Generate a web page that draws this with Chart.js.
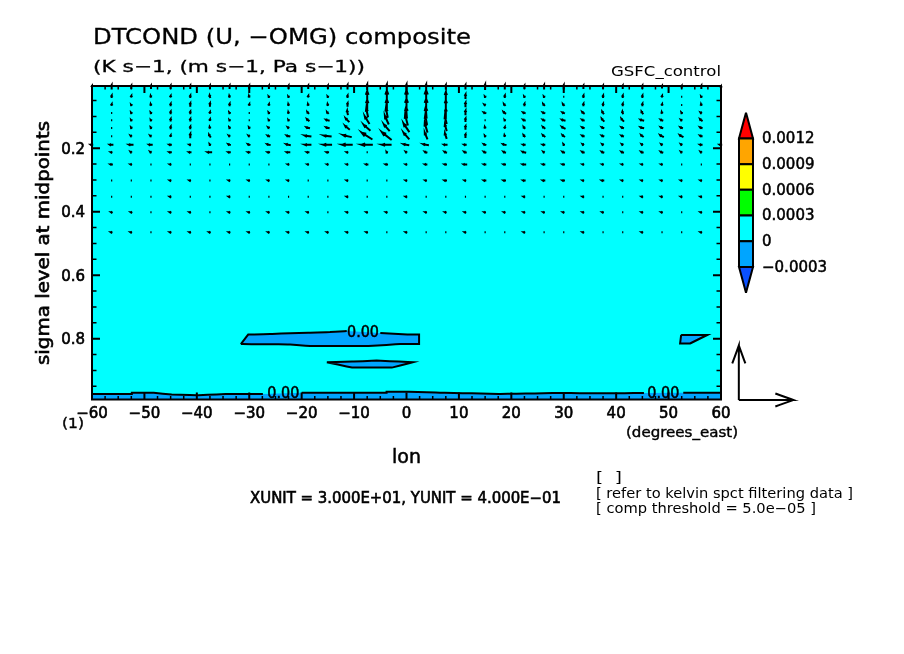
<!DOCTYPE html>
<html>
<head>
<meta charset="utf-8">
<title>DTCOND composite</title>
<script src="https://cdn.jsdelivr.net/npm/chart.js@4"></script>
<style>
    html, body { margin: 0; padding: 0; background: #fff; }
    #wrap { position: relative; width: 904px; height: 654px; overflow: hidden; }
    #myChart { position: absolute; left: 0; top: 0; }
    #barChart { position: absolute; left: 725px; top: 100px; }
</style>
</head>
<body>
<div id="wrap">
    <canvas id="myChart" width="904" height="654"></canvas>
    <canvas id="barChart" width="120" height="210"></canvas>
</div>
<script>
var lonPoints = [-60,-56.25,-52.5,-48.75,-45,-41.25,-37.5,-33.75,-30,-26.25,-22.5,-18.75,-15,-11.25,-7.5,-3.75,0,
    3.75,7.5,11.25,15,18.75,22.5,26.25,30,33.75,37.5,41.25,45,48.75,52.5,56.25,60];
var sigmaLevels = [0.008,0.038,0.064,0.089,0.112,0.136,0.162,0.189,0.213,0.251,0.302,0.353,0.402,0.465];

// zonal wind, m/s, one row per sigma level
var uRows = [
    [0,0,0,0,0,0,0,0,0,0,0,0,0,0,0,0,0,0,0,0,0,0,0,0,0,0,0,0,0,0,0,0,0],
    [0,0,0,-.5,0,0,-.5,-.5,-.5,-.5,-.5,0,-.5,0,0,0,0,0,0,0,-.5,0,-.5,-.5,0,0,0,0,0,0,0,-.5,0],
    [0,0,-.5,-.5,0,0,0,0,0,0,-.5,-.5,-.5,0,0,0,0,0,0,0,-1.1,-1.1,0,-1.1,-1.1,0,0,0,0,0,0,-.5,0],
    [0,0,-.5,-.5,0,0,0,-.5,0,-.5,-.5,-1.1,-1.1,-.5,-1.1,-1.1,-.5,-.5,0,0,-1.6,-1.6,-1.6,-1.6,-1.6,-1.6,-1.1,-.5,-1.1,-.5,-.5,-1.1,0],
    [0,0,-.5,-.5,0,0,0,-.5,0,-.5,-.5,-1.6,-2.2,-2.2,-2.7,-2.2,-1.6,-1.1,-1.1,0,0,-.5,-1.6,-1.6,-2.2,-1.6,-1.6,-1.6,-2.2,-1.6,-1.1,-1.6,0],
    [0,0,-.5,-.5,0,0,-.5,-.5,-.5,-1.1,-1.1,-2.2,-2.2,-2.7,-3.8,-3.3,-3.3,-1.6,-1.1,0,-.5,0,-1.1,-1.6,-2.2,-1.6,-1.6,-1.6,-2.2,-1.6,-1.6,-1.6,0],
    [0,0,-1.1,-1.1,0,0,-1.1,-1.1,-1.1,-1.6,-2.2,-3.8,-4.4,-4.9,-6,-5.5,-3.3,-1.6,-1.1,0,-.5,-.5,-1.1,-1.6,-1.6,-1.6,-1.6,-1.6,-1.6,-2.2,-2.2,-1.6,-.5],
    [-1.6,-2.2,-2.7,-2.2,-1.6,-1.1,-.5,-1.6,-1.6,-2.2,-2.7,-3.8,-4.9,-6,-6.5,-5.5,-3.3,-3.3,-2.2,-1.6,-1.6,-2.2,-1.6,-1.6,-.5,-1.1,-1.1,-1.1,-1.1,-1.1,-1.1,-1.6,-1.6],
    [-.5,-1.1,-1.1,-1.1,-1.6,-1.6,-2.7,-1.6,-1.6,-1.6,-2.2,-1.6,-1.6,-1.1,0,-.5,-1.1,-1.6,-1.6,-1.6,-1.6,-1.6,-2.2,-1.1,-1.6,-1.6,-1.6,-1.6,-1.6,-1.6,-1.1,-1.1,-.5],
    [-.5,-1.6,-1.1,0,-1.1,0,0,-.5,0,0,-1.1,-1.1,-1.1,-1.1,-1.6,-1.6,-1.1,-1.6,-1.6,-2.2,-1.6,-1.6,-2.2,-1.6,-1.6,-1.1,-1.1,-1.1,-1.1,-1.1,0,0,0],
    [0,0,0,0,-1.1,-1.1,0,-1.1,-1.1,-1.1,-1.1,0,0,-1.1,0,0,-1.1,-1.1,-1.6,-1.1,-1.6,-1.6,-1.6,-1.6,-1.6,-1.1,-1.6,-1.1,-1.1,-1.1,-1.1,-1.1,0],
    [0,0,0,0,-1.1,-.5,0,-1.1,0,0,0,0,0,-1.1,0,0,-1.1,0,0,0,0,0,-1.1,0,0,-1.1,0,0,-1.1,-1.1,-1.1,-1.1,0],
    [0,-.8,-.8,0,-1.1,-1.1,0,-1.1,-1.1,-1.1,-1.1,-1.1,0,-1.1,-1.1,-1.1,-1.1,-1.1,-1.1,-1.1,-1.1,-1.1,-1.1,-1.1,-1.1,-1.1,-1.1,0,-1.1,-1.1,0,-1.1,0],
    [0,-1.1,-1.1,0,-1.1,-1.1,-1.1,-1.1,-1.1,-1.1,-1.1,-1.1,-1.1,-1.1,-1.1,0,-1.1,0,0,-1.1,0,0,-1.1,0,0,-1.1,0,0,-1.1,0,0,-1.1,0]
];

// -omega, 0.001 Pa/s, same rows
var wRows = [
    [22,36,29,29,29,29,29,29,29,29,29,29,29,36,44,44,44,44,36,36,44,36,29,36,36,29,29,29,29,22,22,29,15],
    [0,22,15,15,15,22,22,15,15,7,7,15,7,22,87,95,95,102,73,36,7,22,7,7,0,22,22,22,22,15,7,7,0],
    [0,15,7,15,22,29,29,22,15,15,15,15,15,29,80,87,95,95,73,36,7,15,22,15,15,22,22,22,22,15,7,15,0],
    [0,7,7,7,22,22,15,7,0,7,15,15,15,36,65,73,87,87,65,36,7,15,7,7,7,15,22,22,22,15,7,7,0],
    [0,7,7,7,22,22,15,7,0,7,7,15,7,29,58,65,80,73,58,29,0,7,7,7,7,7,22,22,7,7,7,15,0],
    [0,7,7,7,22,22,15,7,7,7,7,7,7,29,44,51,65,73,51,29,15,15,15,15,15,7,7,7,7,7,7,7,0],
    [0,7,7,7,15,36,22,7,7,7,7,7,7,15,51,58,51,51,44,29,7,15,15,15,15,7,7,7,15,15,15,7,0],
    [0,0,0,0,0,0,7,7,7,7,7,0,0,0,0,0,7,7,0,0,7,7,0,0,7,7,7,7,7,7,7,0,0],
    [0,0,7,7,0,0,0,0,0,0,0,0,0,0,0,7,7,7,7,7,7,7,7,7,7,7,7,7,7,7,7,7,0],
    [0,0,0,0,0,0,0,0,0,0,0,0,0,0,0,0,0,0,0,0,0,0,0,0,0,0,0,0,0,0,0,0,0],
    [0,0,0,0,0,0,0,0,0,0,0,0,0,0,0,0,0,0,0,0,0,0,0,0,0,0,0,0,0,0,0,0,0],
    [0,0,0,0,0,0,0,0,0,0,0,0,0,0,0,0,0,0,0,0,0,0,0,0,0,0,0,0,0,0,0,0,0],
    [0,0,0,0,0,0,0,0,0,0,0,0,0,0,0,0,0,0,0,0,0,0,0,0,0,0,0,0,0,0,0,0,0],
    [0,0,0,0,0,0,0,0,0,0,0,0,0,0,0,0,0,0,0,0,0,0,0,0,0,0,0,0,0,0,0,0,0]
];

// contour outlines of the 0.00 level
var blobLon = [-31.6,-30.2,-26,-22.2,-18.4,-14.6,-11.4,-5,0.3,2.4,2.4,-1.2,-7.6,-18.4,-22.2,-31.6];
var blobSigma = [.817,.787,.785,.783,.781,.779,.776,.782,.787,.787,.817,.817,.823,.823,.818,.817];
var lensLon = [-15.2,-10.4,-5.7,1.2,-2.8,-10.4,-15.2];
var lensSigma = [.874,.872,.869,.874,.891,.891,.874];
var edgeLon = [52.4,57.4,54.1,52.2,52.4];
var edgeSigma = [.788,.788,.815,.815,.788];
var bandLon = [-60,-52.4,-52.4,-48.6,-44.8,-40,-33.7,-27.4,-20,-3.8,-3.8,0,6.4,17.9,29.3,36.9,45.3,52.8,60,60,-60,-60];
var bandSigma = [.974,.974,.970,.970,.976,.978,.974,.974,.970,.970,.967,.967,.970,.974,.971,.972,.971,.970,.970,.9915,.9915,.974];

var contourLabel = '0.00';
var labelLon = [-8.3,-23.5,49];
var labelSigma = [.777,.971,.971];

var xunit = 30;
var yunit = 400;
var unitOriginLon = 63.4;
var unitOriginSigma = 0.993;

var colorLevels = [-0.0003,0,0.0003,0.0006,0.0009,0.0012];
var colorFills = ['#00a5ff','#00ffff','#00ff00','#ffff00','#ffa500'];
var lowColor = '#0a50ff';
var highColor = '#ff0000';
var tipLow = -0.0006;
var tipHigh = 0.0015;

var titleText = 'DTCOND (U, \u2212OMG) composite';
var subTitleText = '(K s\u22121, (m s\u22121, Pa s\u22121))';
var caseText = 'GSFC_control';
var xTitle = 'lon';
var yTitle = 'sigma level at midpoints';
var xUnitsText = '(degrees_east)';
var indexText = '(1)';
var unitText = 'XUNIT = 3.000E+01, YUNIT = 4.000E\u221201';
var noteLines = ['[  ]', '[ refer to kelvin spct filtering data ]', '[ comp threshold = 5.0e\u221205 ]'];

var fontName = '"DejaVu Sans"';
var pxPerLon = 629 / 120;
var pxPerSigma = 317.5;
var unitLength = 54.5;

// one arrow as a polyline in data coordinates, "at" says where the grid point sits on it
function arrowPoints(lon, sigma, dx, dy, at) {
    var len = Math.sqrt(dx * dx + dy * dy);
    var pts;
    if (len < 0.8) {
        pts = [[0.6, 0], [-0.6, 0]];
    } else {
        var ux = dx / len, uy = dy / len;
        var hx = (1 - at) * dx, hy = (1 - at) * dy;
        var back = Math.max(0.33 * len, 1.2), side = Math.max(0.12 * len, 0.9);
        pts = [[-at * dx, -at * dy], [hx, hy],
            [hx - ux * back - uy * side, hy - uy * back + ux * side],
            [hx, hy],
            [hx - ux * back + uy * side, hy - uy * back - ux * side]];
    }
    var out = pts.map(function (p) {
        return { x: lon + p[0] / pxPerLon, y: sigma - p[1] / pxPerSigma };
    });
    out.push({ x: lon, y: null });
    return out;
}

var vectorData = [];
sigmaLevels.forEach(function (sigma, r) {
    lonPoints.forEach(function (lon, c) {
        var dx = uRows[r][c] / xunit * unitLength;
        var dy = wRows[r][c] / yunit * unitLength;
        var len = Math.sqrt(dx * dx + dy * dy);
        // the line width already adds about a pixel
        var k = len > 1 ? (len - 0.5) / len : 0;
        vectorData = vectorData.concat(arrowPoints(lon, sigma, dx * k, dy * k, 0.5));
    });
});

var unitData = arrowPoints(unitOriginLon, unitOriginSigma, unitLength, 0, 0)
    .concat(arrowPoints(unitOriginLon, unitOriginSigma, 0, unitLength, 0));

function zipPoints(xs, ys) {
    return xs.map(function (x, i) { return { x: x, y: ys[i] }; });
}

function contourFill(xs, ys) {
    return {
        data: zipPoints(xs, ys),
        showLine: true,
        fill: 'shape',
        backgroundColor: colorFills[0],
        borderWidth: 0,
        pointRadius: 0
    };
}

// gaps = index of the segments left open for the contour labels
function contourLine(xs, ys, gaps) {
    return {
        data: zipPoints(xs, ys),
        showLine: true,
        fill: false,
        borderColor: '#000',
        borderWidth: 2,
        borderDash: [9, 0],
        pointRadius: 0,
        segment: {
            borderColor: function (ctx) {
                return gaps.indexOf(ctx.p0DataIndex) >= 0 ? 'rgba(0,0,0,0)' : '#000';
            }
        }
    };
}

function fitText(ctx, str, x, y, width, size, stroke) {
    ctx.save();
    ctx.font = size + 'px ' + fontName;
    var w = ctx.measureText(str).width;
    ctx.translate(x, y);
    ctx.scale(width / w, 1);
    ctx.fillText(str, 0, 0);
    if (stroke) {
        ctx.lineWidth = stroke;
        ctx.strokeStyle = '#000';
        ctx.strokeText(str, 0, 0);
    }
    ctx.restore();
}

var framePlugin = {
    id: 'frame',
    afterDatasetsDraw: function (chart) {
        var ctx = chart.ctx, a = chart.chartArea;
        var xs = chart.scales.x, ys = chart.scales.y;
        ctx.save();
        ctx.strokeStyle = '#000';
        xs.ticks.forEach(function (t) {
            var major = Math.abs(t.value % 10) < 1e-6;
            var px = xs.getPixelForValue(t.value);
            var len = major ? 7 : 3.5;
            ctx.lineWidth = major ? 2 : 1.5;
            ctx.beginPath();
            ctx.moveTo(px, a.top); ctx.lineTo(px, a.top + len);
            ctx.moveTo(px, a.bottom); ctx.lineTo(px, a.bottom - len);
            ctx.stroke();
        });
        ys.ticks.forEach(function (t) {
            var q = t.value * 5;
            var major = Math.abs(q - Math.round(q)) < 1e-6;
            var py = ys.getPixelForValue(t.value);
            var len = major ? 8 : 4.5;
            ctx.lineWidth = major ? 2 : 1.5;
            ctx.beginPath();
            ctx.moveTo(a.left, py); ctx.lineTo(a.left + len, py);
            ctx.moveTo(a.right, py); ctx.lineTo(a.right - len, py);
            ctx.stroke();
        });
        ctx.lineWidth = 2;
        ctx.strokeRect(a.left, a.top, a.right - a.left, a.bottom - a.top);
        ctx.restore();
    },
    afterDraw: function (chart) {
        var ctx = chart.ctx;
        var xs = chart.scales.x, ys = chart.scales.y;
        ctx.save();
        ctx.fillStyle = '#000';
        ctx.textAlign = 'left';
        ctx.textBaseline = 'alphabetic';
        fitText(ctx, titleText, 93, 44, 378, 21, 0.3);
        fitText(ctx, subTitleText, 93, 72, 272, 16, 0.3);
        fitText(ctx, caseText, 611, 76, 110, 14);
        fitText(ctx, xTitle, 392, 463, 29, 19, 0.5);
        fitText(ctx, xUnitsText, 626, 437, 112, 14, 0.4);
        fitText(ctx, indexText, 62, 428, 22, 14, 0.4);
        fitText(ctx, unitText, 250, 503, 311, 15, 0.6);
        fitText(ctx, noteLines[0], 596, 482, 26, 14);
        fitText(ctx, noteLines[1], 596, 498, 257, 14);
        fitText(ctx, noteLines[2], 596, 513, 220, 14);
        labelLon.forEach(function (lon, i) {
            var px = xs.getPixelForValue(lon), py = ys.getPixelForValue(labelSigma[i]);
            fitText(ctx, contourLabel, px - 16, py + 5.5, 32, 15, 0.5);
        });
        ctx.translate(49, 365);
        ctx.rotate(-Math.PI / 2);
        fitText(ctx, yTitle, 0, 0, 244, 18, 0.6);
        ctx.restore();
    }
};

var chart = new Chart(document.getElementById('myChart').getContext('2d'), {
    type: 'scatter',
    data: {
        datasets: [
            { label: 'unit vectors', data: unitData, showLine: true, clip: false, borderColor: '#000', borderWidth: 2, borderDash: [9, 0], pointRadius: 0 },
            { label: 'U, -OMG', data: vectorData, showLine: true, clip: false, borderColor: '#000', borderWidth: 2, borderDash: [9, 0], pointRadius: 0 },
            contourLine(blobLon, blobSigma, [6]),
            contourLine(lensLon, lensSigma, []),
            contourLine(edgeLon, edgeSigma, []),
            contourLine(bandLon, bandSigma, [7, 16, 18, 19, 20]),
            contourFill(blobLon, blobSigma),
            contourFill(lensLon, lensSigma),
            contourFill(edgeLon, edgeSigma),
            contourFill(bandLon, bandSigma),
            { label: 'field', data: zipPoints([-60, 60, 60, -60, -60], [0.004, 0.004, 0.9915, 0.9915, 0.004]), showLine: true, fill: 'shape', backgroundColor: colorFills[1], borderWidth: 0, pointRadius: 0 }
        ]
    },
    plugins: [framePlugin],
    options: {
        responsive: false,
        devicePixelRatio: 1,
        animation: false,
        layout: { padding: { left: 0, right: 183, top: 86, bottom: 0 } },
        plugins: { legend: { display: false }, tooltip: { enabled: false } },
        scales: {
            x: {
                type: 'linear',
                min: -60,
                max: 60,
                grid: { display: false, drawTicks: false },
                border: { display: false },
                afterFit: function (scale) { scale.height = 254.5; },
                ticks: {
                    stepSize: 2.5,
                    autoSkip: false,
                    maxRotation: 0,
                    padding: 6,
                    color: '#000',
                    textStrokeColor: '#000',
                    textStrokeWidth: 0.6,
                    font: { family: 'DejaVu Sans', size: 15 },
                    callback: function (v) {
                        if (v % 10 !== 0) return '';
                        return v < 0 ? '\u2212' + (-v) : '' + v;
                    }
                }
            },
            y: {
                type: 'linear',
                reverse: true,
                min: 0.004,
                max: 0.9915,
                grid: { display: false, drawTicks: false },
                border: { display: false },
                afterFit: function (scale) { scale.width = 92; },
                ticks: {
                    stepSize: 0.05,
                    includeBounds: false,
                    autoSkip: false,
                    padding: 7,
                    labelOffset: 1.5,
                    color: '#000',
                    textStrokeColor: '#000',
                    textStrokeWidth: 0.6,
                    font: { family: 'DejaVu Sans', size: 15 },
                    callback: function (v) {
                        var q = v * 5;
                        return Math.abs(q - Math.round(q)) < 1e-6 ? v.toFixed(1) : '';
                    }
                }
            }
        }
    }
});

// colour bar, second small chart so the levels sit on a real axis
function barPolygon(ys, xs, fillColor) {
    return {
        data: zipPoints(xs, ys),
        showLine: true,
        fill: 'shape',
        backgroundColor: fillColor,
        borderColor: '#000',
        borderWidth: 2,
        borderDash: [9, 0],
        clip: false,
        pointRadius: 0
    };
}

var barSets = [];
colorFills.forEach(function (color, i) {
    var lo = colorLevels[i], hi = colorLevels[i + 1];
    barSets.push(barPolygon([lo, lo, hi, hi, lo], [0, 1, 1, 0, 0], color));
});
barSets.push(barPolygon([tipLow, colorLevels[0], colorLevels[0], tipLow], [0.5, 0, 1, 0.5], lowColor));
barSets.push(barPolygon([tipHigh, colorLevels[5], colorLevels[5], tipHigh], [0.5, 0, 1, 0.5], highColor));

var barChart = new Chart(document.getElementById('barChart').getContext('2d'), {
    type: 'scatter',
    data: { datasets: barSets },
    options: {
        responsive: false,
        devicePixelRatio: 1,
        animation: false,
        layout: { padding: { left: 14, right: 0, top: 12.7, bottom: 17.3 } },
        plugins: { legend: { display: false }, tooltip: { enabled: false } },
        scales: {
            x: { type: 'linear', display: false, min: 0, max: 1 },
            y: {
                type: 'linear',
                position: 'right',
                min: tipLow,
                max: tipHigh,
                grid: { display: false, drawTicks: false },
                border: { display: false },
                afterBuildTicks: function (scale) {
                    scale.ticks = colorLevels.map(function (v) { return { value: v }; });
                },
                afterFit: function (scale) {
                    scale.width = 92;
                    scale.paddingTop = 0;
                    scale.paddingBottom = 0;
                },
                ticks: {
                    padding: 9,
                    labelOffset: 1,
                    color: '#000',
                    textStrokeColor: '#000',
                    textStrokeWidth: 0.5,
                    font: { family: 'DejaVu Sans', size: 15 },
                    callback: function (v) {
                        if (v === 0) return '0';
                        return v < 0 ? '\u2212' + (-v) : '' + v;
                    }
                }
            }
        }
    }
});
</script>
</body>
</html>
